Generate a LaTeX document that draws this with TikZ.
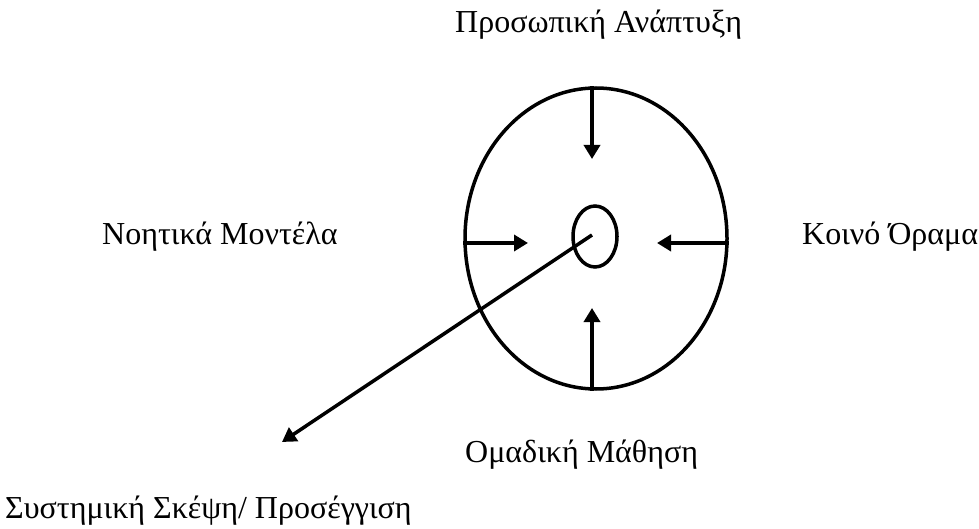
\documentclass[tikz,border=0pt]{standalone}
\usepackage{fontspec}
\setmainfont{Liberation Serif}
\usetikzlibrary{arrows.meta,shapes.geometric}
\begin{document}
\begin{tikzpicture}[x=1pt,y=-1pt,
  lbl/.style={anchor=base west,inner sep=0pt,font=\fontsize{32}{35}\selectfont},
  ring/.style={ellipse,draw,line width=3.5pt,inner sep=0pt},
  arr/.style={line width=3.5pt,-{Triangle[length=14pt,width=16pt]}}]
\useasboundingbox (0,0) rectangle (979,529);
\node[ring,minimum width=262pt,minimum height=301pt] (big) at (596,238.5) {};
\node[ring,minimum width=44pt,minimum height=61pt] (small) at (595,236.5) {};
\coordinate (tT) at (592,159);
\coordinate (tB) at (592,308);
\coordinate (tL) at (528,243);
\coordinate (tR) at (657,243);
\coordinate (dS) at (592,235);
\coordinate (dE) at (282,442);
\draw[arr] (tT |- big.north) -- (tT);
\draw[arr] (tB |- big.south) -- (tB);
\draw[arr] (big.west |- tL) -- (tL);
\draw[arr] (big.east |- tR) -- (tR);
\draw[arr] (dS) -- (dE);
\node[lbl] (pa) at (455,33) {Προσωπική Ανάπτυξη};
\node[lbl] (nm) at (102,245) {Νοητικά Μοντέλα};
\node[lbl] (ko) at (802,245) {Κοινό Όραμα};
\node[lbl] (om) at (465,462) {Ομαδική Μάθηση};
\node[lbl] (ss) at (5,518) {Συστημική Σκέψη/ Προσέγγιση};
\end{tikzpicture}
\end{document}
